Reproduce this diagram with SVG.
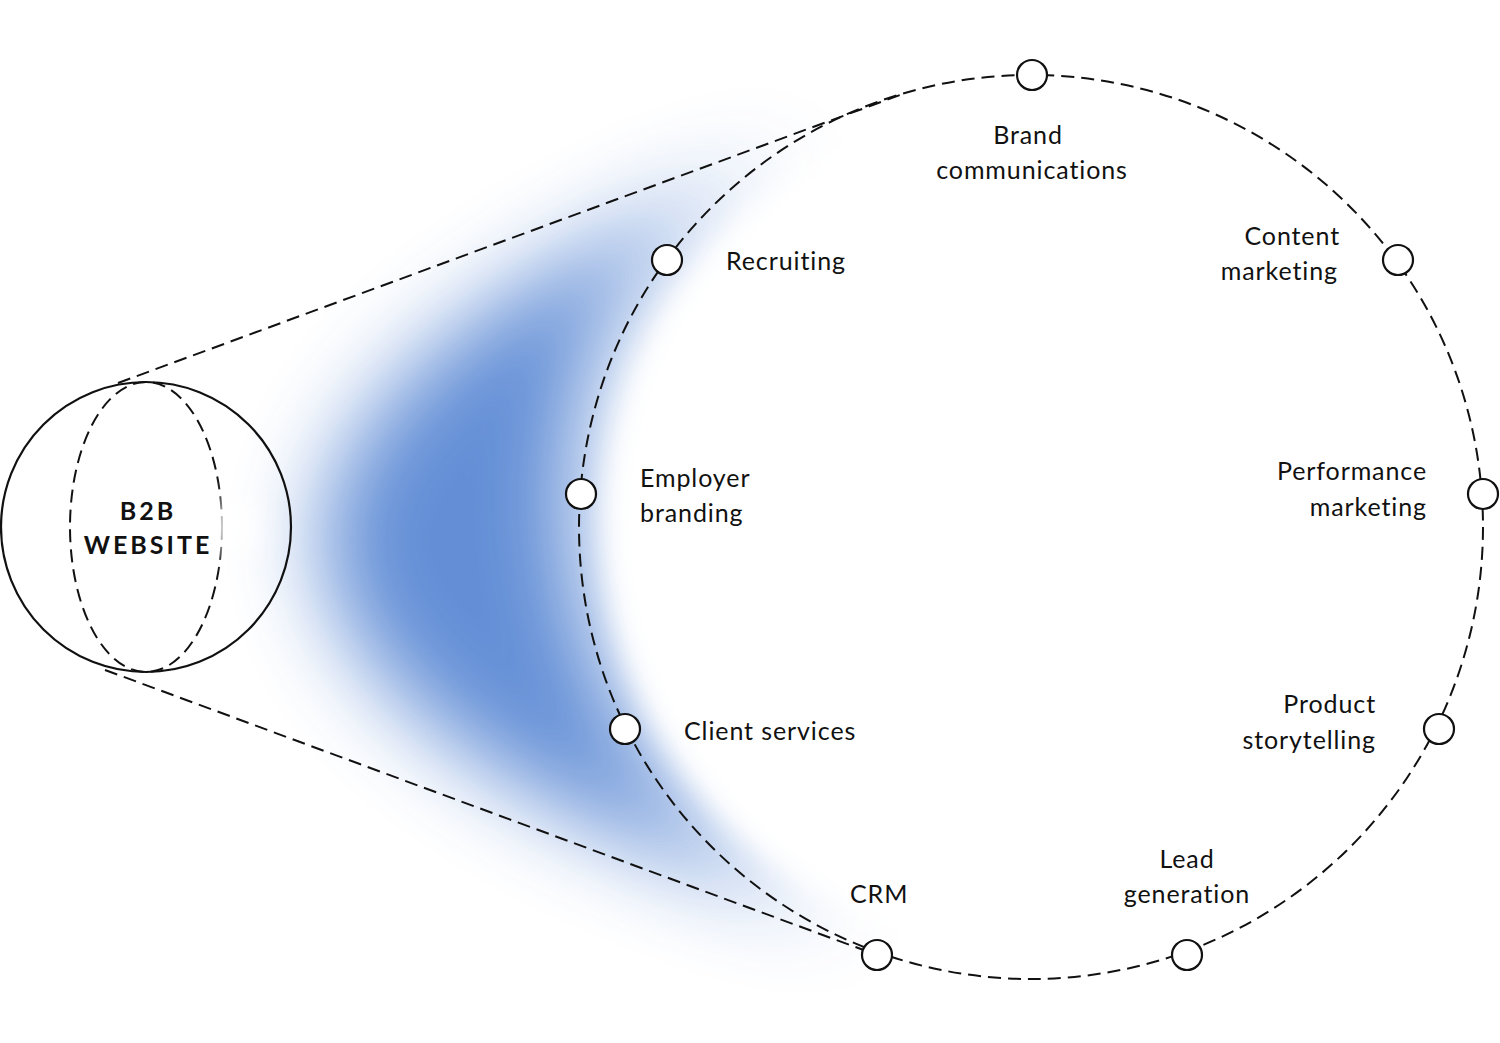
<svg xmlns="http://www.w3.org/2000/svg" width="1500" height="1043" viewBox="0 0 1500 1043">
<style>
.d{fill:none;stroke:#111;stroke-width:2;stroke-dasharray:13 7}
.n{fill:#fff;stroke:#111;stroke-width:2.2}
text{font-family:Lato,"Noto Sans",sans-serif;font-size:25px;fill:#111;letter-spacing:0.9px}
.t{font-weight:bold;letter-spacing:3px;font-size:25px}
</style>
<defs>
<filter id="b" x="-50%" y="-50%" width="200%" height="200%"><feGaussianBlur stdDeviation="45"/></filter>
<filter id="b2" x="-50%" y="-50%" width="200%" height="200%"><feGaussianBlur stdDeviation="14"/></filter>
</defs>
<rect width="1500" height="1043" fill="#fff"/>
<g id="glow">
<path d="M840,140 Q340,320 320,540 Q340,770 870,925 A452,452 0 0 1 610,320 A452,452 0 0 1 840,140 Z" fill="#5b89d4" filter="url(#b)" opacity="0.95"/>
<circle cx="1031" cy="527" r="425" fill="#fff" filter="url(#b2)"/>
</g>
<g id="connectors">
<circle class="d" cx="1031" cy="527" r="452"/>
<line class="d" x1="118" y1="383" x2="900" y2="95"/>
<line class="d" x1="105" y1="670" x2="877" y2="955"/>
<ellipse class="d" cx="146" cy="527" rx="76" ry="145"/>
</g>
<g id="website">
<circle cx="232" cy="527" r="26" fill="#fff" filter="url(#b2)"/>
<circle cx="146" cy="527" r="145" fill="none" stroke="#111" stroke-width="2.2"/>
<text class="t" x="148" y="520" text-anchor="middle">B2B</text>
<text class="t" x="148" y="554" text-anchor="middle">WEBSITE</text>
</g>
<g id="brand"><circle class="n" cx="1032" cy="75" r="15"/><text x="1028" y="144" text-anchor="middle">Brand</text><text x="1032" y="179" text-anchor="middle">communications</text></g>
<g id="recruiting"><circle class="n" cx="667" cy="260" r="15"/><text x="726" y="270">Recruiting</text></g>
<g id="content"><circle class="n" cx="1398" cy="260" r="15"/><text x="1340" y="245" text-anchor="end">Content</text><text x="1338" y="280" text-anchor="end">marketing</text></g>
<g id="employer"><circle class="n" cx="581" cy="494" r="15"/><text x="640" y="487">Employer</text><text x="640" y="522">branding</text></g>
<g id="performance"><circle class="n" cx="1483" cy="494" r="15"/><text x="1427" y="480" text-anchor="end">Performance</text><text x="1427" y="516" text-anchor="end">marketing</text></g>
<g id="client"><circle class="n" cx="625" cy="729" r="15"/><text x="684" y="740">Client services</text></g>
<g id="product"><circle class="n" cx="1439" cy="729" r="15"/><text x="1376" y="713" text-anchor="end">Product</text><text x="1376" y="749" text-anchor="end">storytelling</text></g>
<g id="crm"><circle class="n" cx="877" cy="955" r="15"/><text x="850" y="903">CRM</text></g>
<g id="lead"><circle class="n" cx="1187" cy="955" r="15"/><text x="1187" y="868" text-anchor="middle">Lead</text><text x="1187" y="903" text-anchor="middle">generation</text></g>
</svg>
